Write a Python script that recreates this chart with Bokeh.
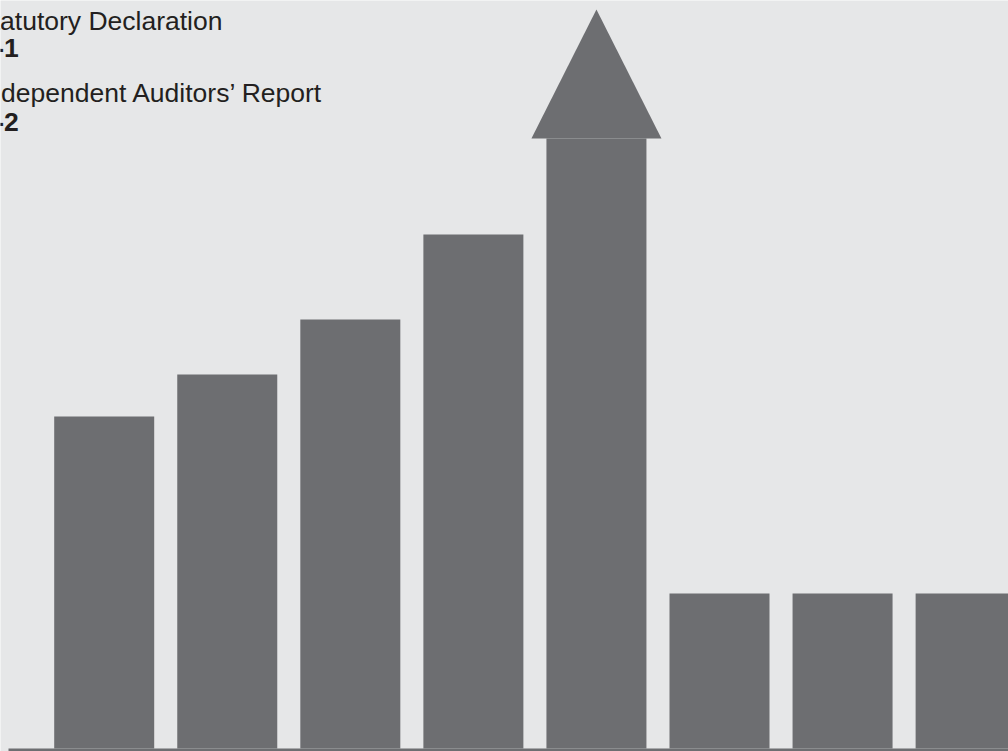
import numpy as np
from bokeh.plotting import figure
from bokeh.models import Range1d, Label, ColumnDataSource
from bokeh.embed import file_html
from bokeh.resources import INLINE

# ---- data ----
categories = ["1", "2", "3", "4", "5", "6", "7", "8"]
values = [332, 374, 429, 514, 739, 155, 155, 155]
is_arrow = [False, False, False, False, True, False, False, False]
entries = ["Statutory Declaration", "Independent Auditors\u2019 Report"]
pages = ["A-1", "A-2"]

# ---- style ----
BG = "#e6e7e8"
BAR = "#6d6e71"
TXT = "#231f20"
W, H = 1008, 751
STEP = 123.06          # px per category
FIRST = 103.7          # px centre of first bar
BAR_W = 100 / STEP
HEAD_W = 130 / STEP
HEAD_LEN = 129

def px_x(px):
    return (px - FIRST) / STEP

def px_y(py):
    return 748 - py

x = np.arange(len(categories))
vals = np.array(values, dtype=float)
arrow = np.array(is_arrow)

p = figure(width=W, height=H, output_backend="svg", toolbar_location=None,
           x_range=Range1d(px_x(0), px_x(W)), y_range=Range1d(-3, 748),
           min_border=0, x_axis_location=None, y_axis_location=None,
           background_fill_color=BG, border_fill_color=BG, outline_line_color=None)
p.grid.visible = False

tops = np.where(arrow, vals - HEAD_LEN, vals)
src = ColumnDataSource(dict(x=x, top=tops, cat=categories))
p.vbar(x="x", top="top", bottom=0, width=BAR_W, source=src,
       fill_color=BAR, line_color=None)

for xi, v in zip(x[arrow], vals[arrow]):
    p.patch([xi - HEAD_W / 2, xi, xi + HEAD_W / 2],
            [v - HEAD_LEN, v, v - HEAD_LEN], fill_color=BAR, line_color=None)

# baseline rule
p.segment(x0=[px_x(8)], y0=[-1.5], x1=[px_x(W)], y1=[-1.5],
          line_color=BAR, line_width=3)

entry_x = [-25.5, -21.6]
page_x = -24.4
baselines = [(20, 47), (92, 121)]
for (b1, b2), ex, e, pg in zip(baselines, entry_x, entries, pages):
    p.add_layout(Label(x=px_x(ex), y=px_y(b1), text=e, text_font="Liberation Sans",
                       text_font_size="26.5px", text_color=TXT, text_baseline="alphabetic"))
    p.add_layout(Label(x=px_x(page_x), y=px_y(b2), text=pg, text_font="Liberation Sans",
                       text_font_size="26.5px", text_font_style="bold",
                       text_color=TXT, text_baseline="alphabetic"))

open("out.html", "w").write(file_html(p, INLINE))
